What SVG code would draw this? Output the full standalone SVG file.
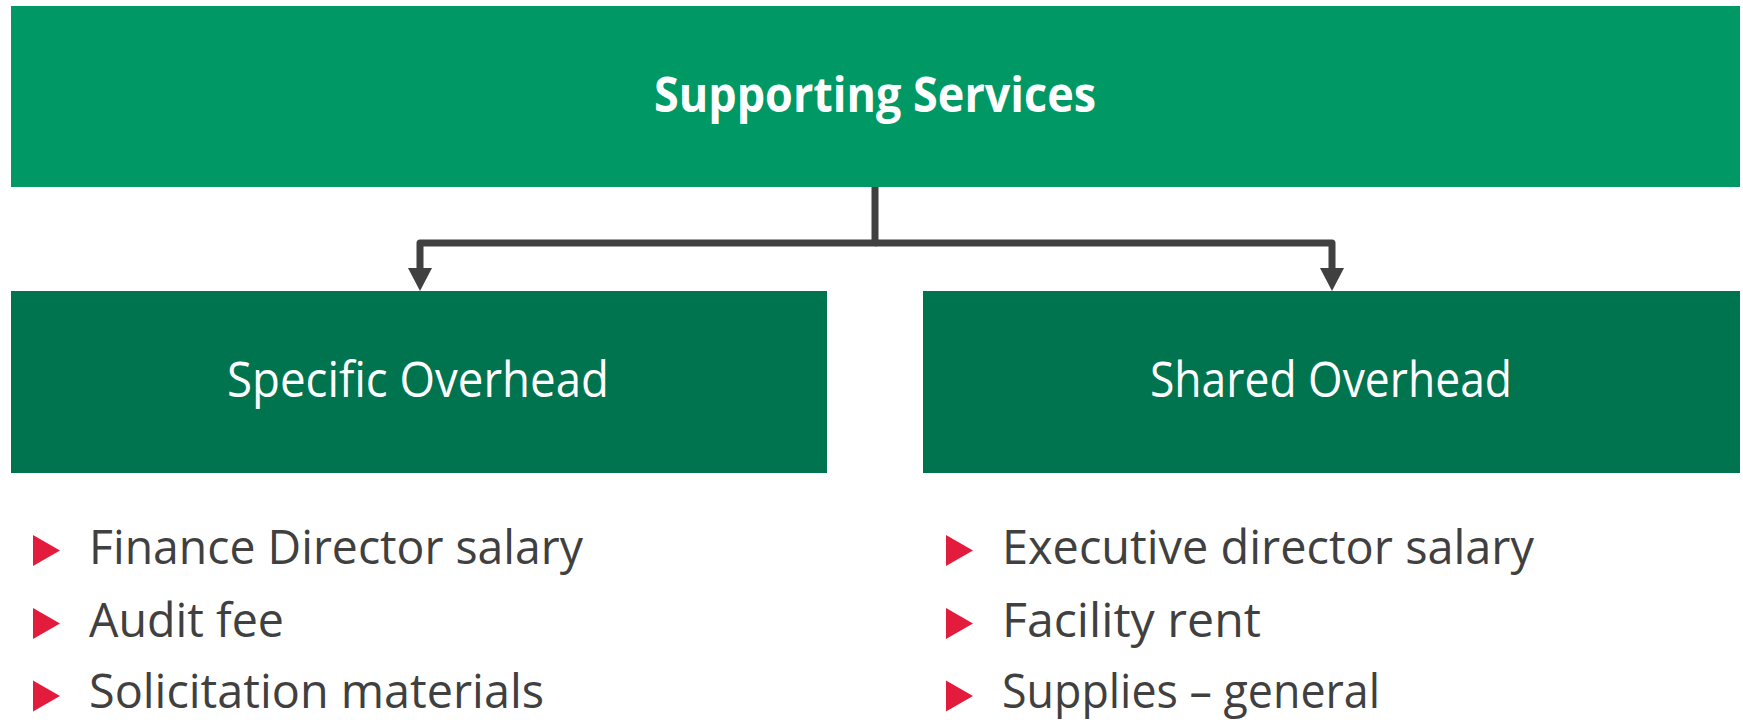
<svg xmlns="http://www.w3.org/2000/svg" width="1743" height="720" viewBox="0 0 1743 720">
  <style>
    .top { fill: #009966; }
    .child { fill: #00734F; }
    .title { font-family: "Open Sans", "Liberation Sans", sans-serif; font-size: 49px; font-weight: bold; fill: #FFFFFF; }
    .sub { font-family: "Open Sans", "Liberation Sans", sans-serif; font-size: 49px; fill: #FFFFFF; }
    .item { font-family: "Open Sans", "Liberation Sans", sans-serif; font-size: 47.5px; fill: #404040; }
    .bullet { fill: #E31B3D; }
    .link { fill: none; stroke: #404040; stroke-width: 7; stroke-linejoin: round; marker-end: url(#arrow); }
  </style>
  <defs>
    <marker id="arrow" viewBox="0 0 23 24" refX="0" refY="12" markerWidth="23" markerHeight="24" markerUnits="userSpaceOnUse" orient="auto">
      <path d="M0,0 L23,12 L0,24 Z" fill="#404040"/>
    </marker>
    <path id="tri" d="M0,-15.5 L27,0 L0,15.5 Z"/>
  </defs>

  <rect width="1743" height="720" fill="#FFFFFF"/>

  <!-- connectors -->
  <g id="connectors">
    <path class="link" d="M875,187 V243 H420 V268"/>
    <path class="link" d="M875,243 H1332 V268"/>
  </g>

  <g id="supporting-services">
    <rect class="top" x="11" y="6" width="1729" height="181"/>
    <text class="title" x="875" y="112" text-anchor="middle" textLength="442" lengthAdjust="spacingAndGlyphs">Supporting Services</text>
  </g>

  <g id="specific-overhead">
    <rect class="child" x="11" y="291" width="816" height="182"/>
    <text class="sub" x="418" y="397" text-anchor="middle" textLength="382" lengthAdjust="spacingAndGlyphs">Specific Overhead</text>
  </g>

  <g id="shared-overhead">
    <rect class="child" x="923" y="291" width="817" height="182"/>
    <text class="sub" x="1331" y="397" text-anchor="middle" textLength="362" lengthAdjust="spacingAndGlyphs">Shared Overhead</text>
  </g>

  <g id="specific-items">
    <use href="#tri" class="bullet" x="33" y="550.5"/>
    <use href="#tri" class="bullet" x="33" y="623.5"/>
    <use href="#tri" class="bullet" x="33" y="696"/>
    <text class="item" x="89" y="564" textLength="494" lengthAdjust="spacingAndGlyphs">Finance Director salary</text>
    <text class="item" x="89" y="637" textLength="195" lengthAdjust="spacingAndGlyphs">Audit fee</text>
    <text class="item" x="89" y="708" textLength="455" lengthAdjust="spacingAndGlyphs">Solicitation materials</text>
  </g>

  <g id="shared-items">
    <use href="#tri" class="bullet" x="946" y="550.5"/>
    <use href="#tri" class="bullet" x="946" y="623.5"/>
    <use href="#tri" class="bullet" x="946" y="696"/>
    <text class="item" x="1002" y="564" textLength="532" lengthAdjust="spacingAndGlyphs">Executive director salary</text>
    <text class="item" x="1002" y="637" textLength="259" lengthAdjust="spacingAndGlyphs">Facility rent</text>
    <text class="item" x="1002" y="708" textLength="378" lengthAdjust="spacingAndGlyphs">Supplies – general</text>
  </g>
</svg>
